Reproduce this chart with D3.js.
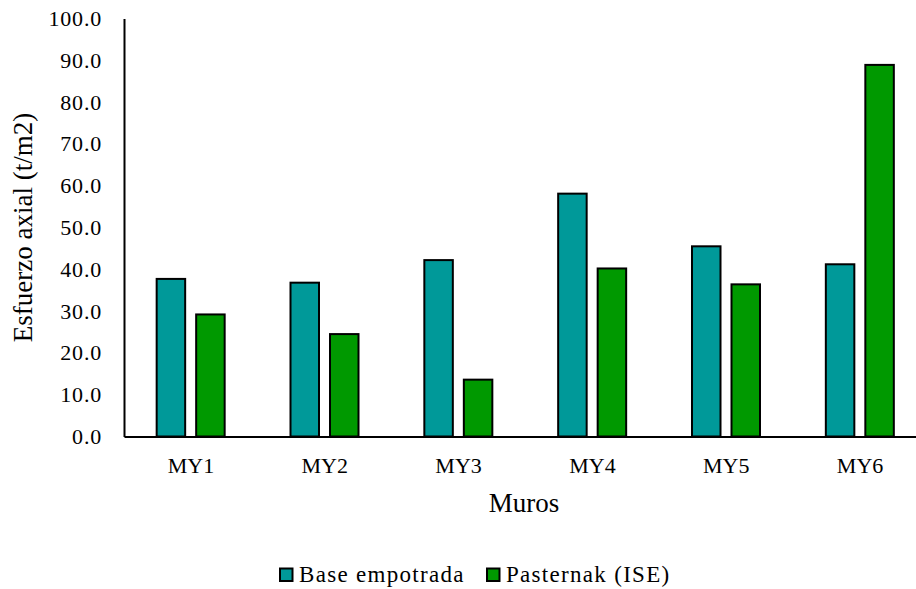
<!DOCTYPE html>
<html>
<head>
<meta charset="utf-8">
<script src="https://cdn.jsdelivr.net/npm/d3@7"></script>
<style>
  html, body { margin: 0; padding: 0; background: #fff; }
  svg { display: block; }
  svg text { font-family: "Times New Roman", "Liberation Serif", "DejaVu Serif", serif !important; fill: #000; }
</style>
</head>
<body>
<div id="chart"></div>
<script>
// Axial stress per wall, fixed base vs. Pasternak soil-structure interaction
const categories = ["MY1", "MY2", "MY3", "MY4", "MY5", "MY6"];
const seriesNames = ["Base empotrada", "Pasternak (ISE)"];
const baseEmpotrada = [37.7, 36.8, 42.2, 58.1, 45.5, 41.2];
const pasternak = [29.2, 24.5, 13.6, 40.2, 36.4, 88.9];
const yTicks = [0, 10, 20, 30, 40, 50, 60, 70, 80, 90, 100];
const colors = ["#009999", "#009900"];

const W = 916, H = 589;
const plot = { left: 124, right: 927, top: 18.5, bottom: 436.5 };

const svg = d3.select("#chart").append("svg")
  .attr("width", W).attr("height", H);

const x = d3.scaleBand().domain(categories).range([plot.left, plot.right]).paddingInner(0).paddingOuter(0);
const y = d3.scaleLinear().domain([0, 100]).range([plot.bottom, plot.top]);

const rows = categories.map((c, i) => ({ cat: c, vals: [baseEmpotrada[i], pasternak[i]] }));

// bars: two per wall, side by side
const barW = 28.5, offset = [-20, 19.5];
const g = svg.append("g");
rows.forEach(r => {
  r.vals.forEach((v, s) => {
    const cx = x(r.cat) + x.bandwidth() / 2 + offset[s];
    g.append("rect")
      .attr("x", cx - barW / 2)
      .attr("y", y(v))
      .attr("width", barW)
      .attr("height", y(0) - y(v))
      .attr("fill", colors[s])
      .attr("stroke", "#000")
      .attr("stroke-width", 2);
  });
});

// y axis
const yAxis = svg.append("g")
  .attr("transform", `translate(${plot.left},0)`)
  .call(d3.axisLeft(y).tickValues(yTicks).tickFormat(d3.format(".1f")).tickSize(0).tickPadding(22));
yAxis.attr("font-family", null);
yAxis.select(".domain").attr("stroke", "#000").attr("stroke-width", 2);
yAxis.selectAll("text").style("font-size", "22px").style("letter-spacing", "0.8px");

// x axis
const xAxis = svg.append("g")
  .attr("transform", `translate(0,${plot.bottom})`)
  .call(d3.axisBottom(x).tickSize(0).tickPadding(21));
xAxis.attr("font-family", null);
xAxis.select(".domain").attr("stroke", "#000").attr("stroke-width", 2);
xAxis.selectAll("text").style("font-size", "22px");

// axis titles
svg.append("text")
  .attr("transform", `translate(32,227.5) rotate(-90)`)
  .attr("text-anchor", "middle")
  .style("font-size", "27px")
  .text("Esfuerzo axial (t/m2)");

svg.append("text")
  .attr("x", 524).attr("y", 511.5)
  .attr("text-anchor", "middle")
  .style("font-size", "27px")
  .text("Muros");

// legend
const legendItems = [{ name: seriesNames[0], x: 280 }, { name: seriesNames[1], x: 487 }];
legendItems.forEach((it, i) => {
  svg.append("rect")
    .attr("x", it.x).attr("y", 568.5)
    .attr("width", 12.5).attr("height", 12.5)
    .attr("fill", colors[i]).attr("stroke", "#000").attr("stroke-width", 2);
  svg.append("text")
    .attr("x", it.x + 19).attr("y", 581.5)
    .style("font-size", "23px")
    .style("letter-spacing", "1.3px")
    .text(it.name);
});
</script>
</body>
</html>
